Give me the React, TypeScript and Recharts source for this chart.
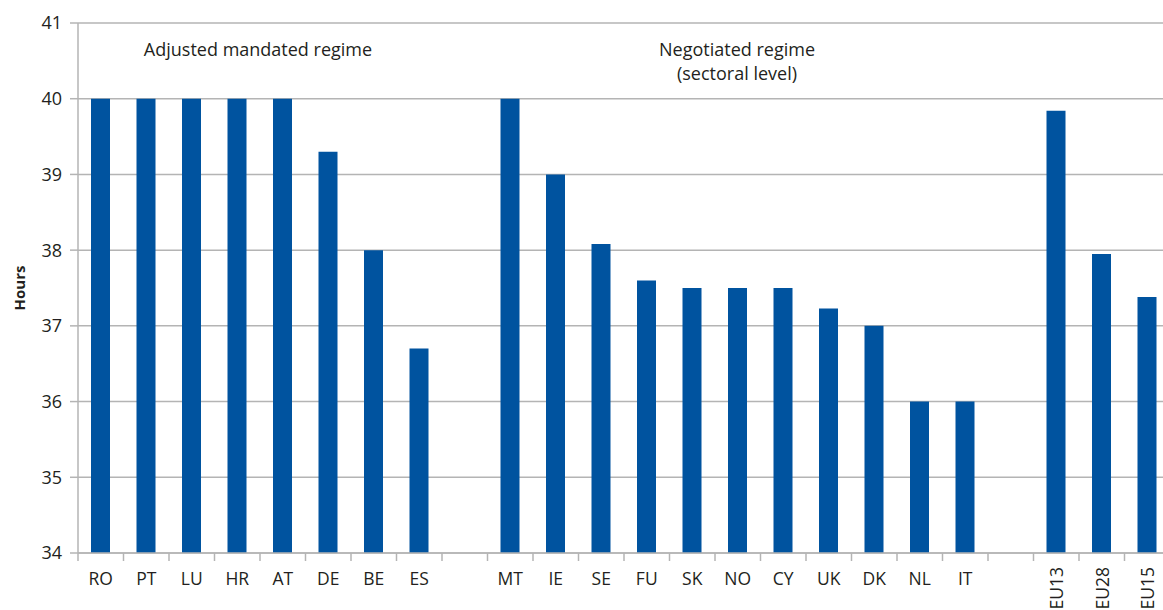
import { BarChart, Bar, XAxis, YAxis, CartesianGrid, Label } from 'recharts'

// country codes, '' marks the empty slots between the groups
const categories = [
  'RO', 'PT', 'LU', 'HR', 'AT', 'DE', 'BE', 'ES', '',
  'MT', 'IE', 'SE', 'FU', 'SK', 'NO', 'CY', 'UK', 'DK', 'NL', 'IT', '',
  'EU13', 'EU28', 'EU15',
]
const hours = [
  40, 40, 40, 40, 40, 39.3, 38, 36.7, null,
  40, 39, 38.08, 37.6, 37.5, 37.5, 37.5, 37.23, 37, 36, 36, null,
  39.84, 37.95, 37.38,
]
const yTicks = [34, 35, 36, 37, 38, 39, 40, 41]
const rotatedLabels = ['EU13', 'EU28', 'EU15']

const data = categories.map((name, i) => ({ key: i, name, hours: hours[i] }))

const FONT = "'Open Sans', 'Noto Sans', sans-serif"
const GRID = '#b4b4b4'
const BLUE = '#00539f'
const BAND = 45.5

const CategoryTick = (props: any) => {
  const { x, y, payload } = props
  const name = categories[payload.value] ?? ''
  const rotated = rotatedLabels.includes(name)
  return (
    <g>
      <line x1={x - BAND / 2} x2={x - BAND / 2} y1={y} y2={y + 8} stroke={GRID} strokeWidth={1.5} />
      {rotated ? (
        <text
          x={x}
          y={y + 14}
          transform={`rotate(-90, ${x}, ${y + 14})`}
          textAnchor='end'
          dominantBaseline='central'
          fontSize={17.5}
          fontFamily={FONT}
          fill='#231f20'
        >
          {name}
        </text>
      ) : (
        <text x={x} y={y + 32} textAnchor='middle' fontSize={17.5} fontFamily={FONT} fill='#231f20'>
          {name}
        </text>
      )}
    </g>
  )
}

export default function App() {
  return (
    <div
      style={{
        position: 'absolute',
        left: 0,
        top: 0,
        width: 1163,
        height: 610,
        overflow: 'hidden',
        background: '#fff',
      }}
    >
      <BarChart
        width={1180}
        height={610}
        data={data}
        margin={{ top: 23, right: 10, bottom: 0, left: 0 }}
      >
        <CartesianGrid vertical={false} stroke={GRID} strokeWidth={1.5} />
        <XAxis
          dataKey='key'
          height={57}
          tickLine={false}
          tickSize={0}
          tickMargin={0}
          interval={0}
          stroke={GRID}
          strokeWidth={1.5}
          tick={<CategoryTick />}
        />
        <YAxis
          width={78}
          domain={[34, 41]}
          ticks={yTicks}
          interval={0}
          tickSize={8}
          tickMargin={8}
          stroke={GRID}
          strokeWidth={1.5}
          tick={{ fontSize: 18, fill: '#231f20', fontFamily: FONT }}
        >
          <Label
            value='Hours'
            angle={-90}
            position='insideLeft'
            offset={20}
            style={{ fontSize: 15, fontWeight: 700, fill: '#231f20', fontFamily: FONT, textAnchor: 'middle' }}
          />
        </YAxis>
        <Bar dataKey='hours' fill={BLUE} barSize={19} isAnimationActive={false} />
        <text x={258} y={56} textAnchor='middle' fontSize={18} fontFamily={FONT} fill='#231f20'>
          Adjusted mandated regime
        </text>
        <text x={737} y={56} textAnchor='middle' fontSize={18} fontFamily={FONT} fill='#231f20'>
          Negotiated regime
        </text>
        <text x={737} y={80} textAnchor='middle' fontSize={18} fontFamily={FONT} fill='#231f20'>
          (sectoral level)
        </text>
      </BarChart>
    </div>
  )
}
